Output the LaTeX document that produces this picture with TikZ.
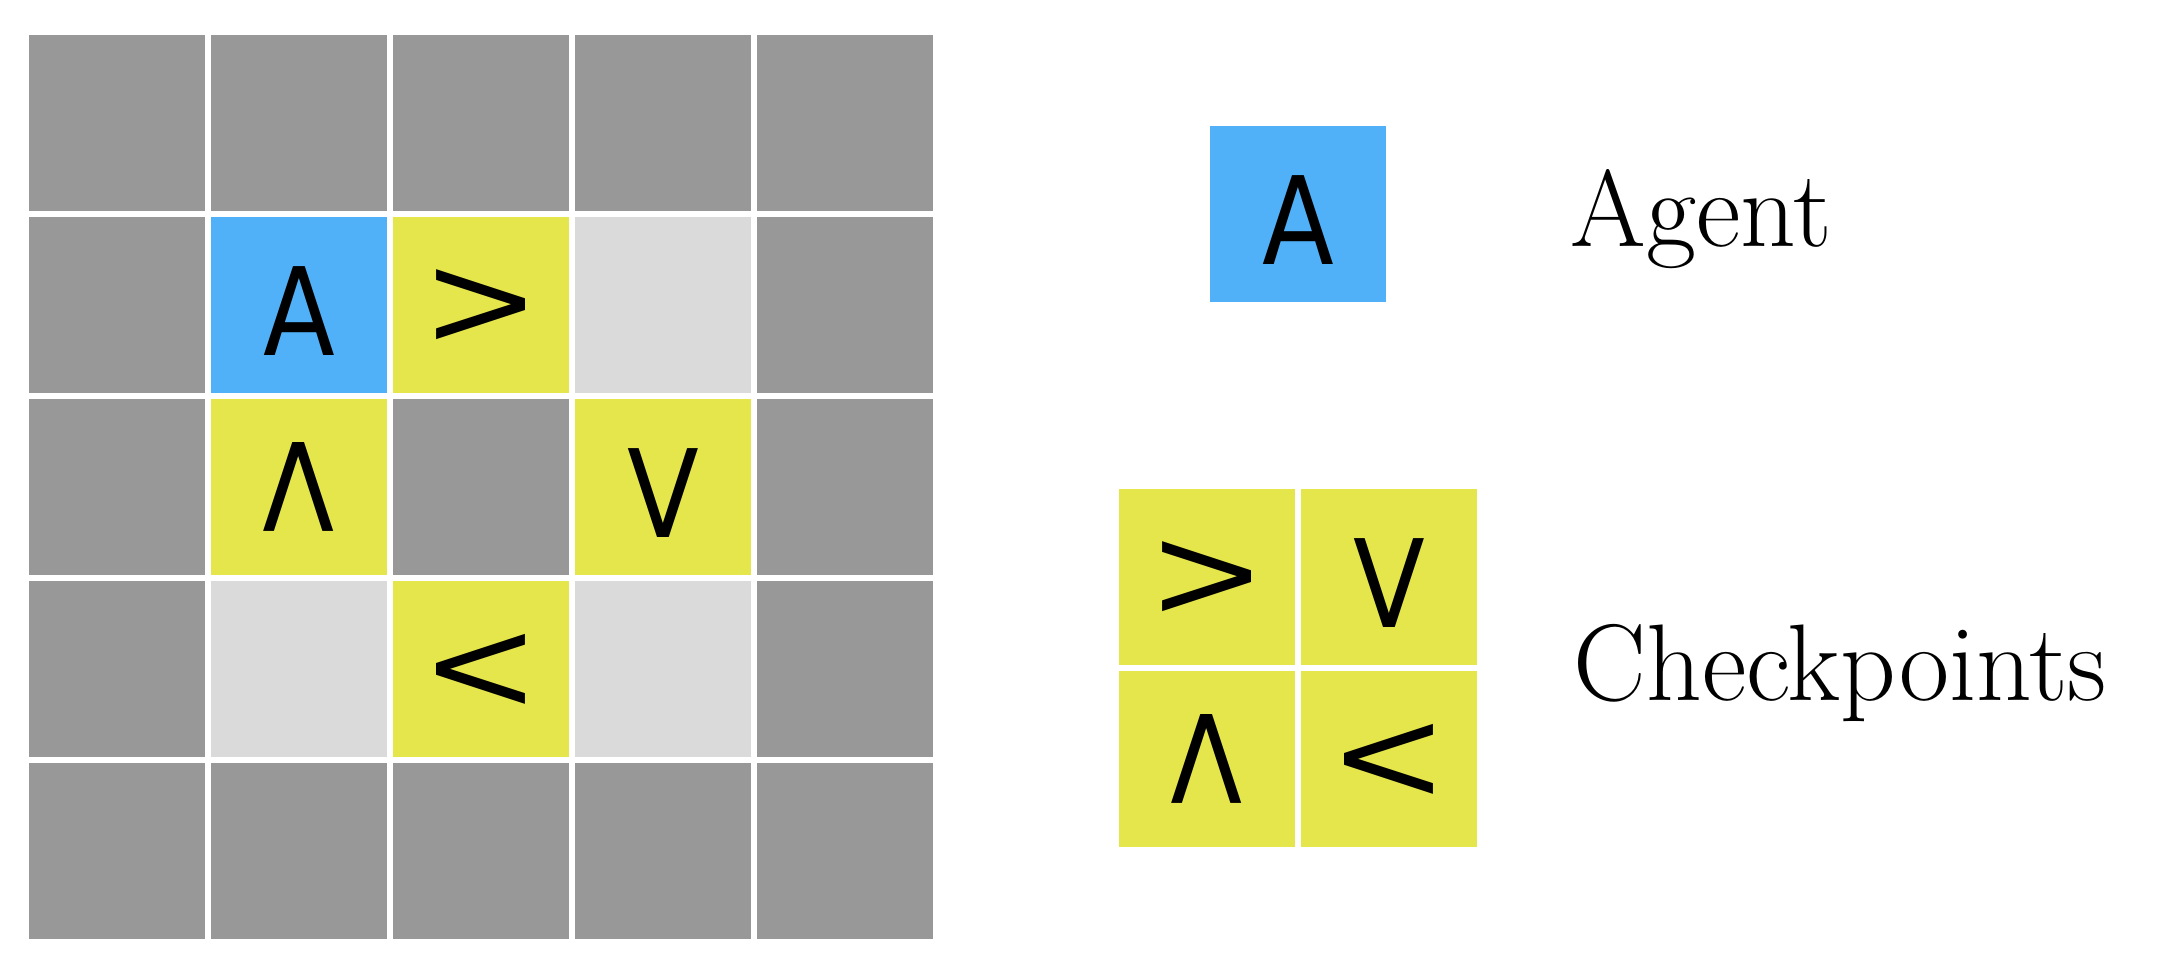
\documentclass[tikz,border=0pt]{standalone}
\usepackage{fontspec}
\usepackage{graphicx}
\usepackage{xcolor}
\usepackage{tikz}

\newfontfamily\cellfont{DejaVu Sans}
\definecolor{wallgray}{HTML}{989898}
\definecolor{floorgray}{HTML}{DADADA}
\definecolor{agentblue}{HTML}{50B0F8}
\definecolor{checkyellow}{HTML}{E5E54C}
\newcommand{\cellglyph}[1]{\scalebox{0.86}[1]{\cellfont\fontsize{34.7}{40}\selectfont #1}}

\begin{document}
\begin{tikzpicture}[
      x=0.1mm, y=-0.1mm,
      cell/.style={rectangle, minimum size=17.6mm, inner sep=0pt, outer sep=0pt},
      wall/.style={cell, fill=wallgray},
      floor/.style={cell, fill=floorgray},
      agent/.style={cell, fill=agentblue},
      checkpoint/.style={cell, fill=checkyellow},
      upright/.style={text height=10.1mm},
      legendtext/.style={anchor=base west, inner sep=0pt, font=\fontsize{31}{36}\selectfont}
    ]
      \useasboundingbox (0,0) rectangle (2182,966);

      % Grid: walls
      \foreach \i/\j in {0/0,1/0,2/0,3/0,4/0, 0/1,4/1, 0/2,2/2,4/2, 0/3,4/3, 0/4,1/4,2/4,3/4,4/4}
        \node[wall] (wall\i\j) at ({117+182*\i},{123+182*\j}) {};

      % Grid: free cells
      \node[floor] (floor31) at (663,305) {};
      \node[floor] (floor13) at (299,669) {};
      \node[floor] (floor33) at (663,669) {};

      % Grid: agent and checkpoints
      \node[agent, upright] (agent) at (299,305) {\cellglyph{A}};
      \node[checkpoint, rotate=90] (cpright) at (481,305) {\cellglyph{V}};
      \node[checkpoint, rotate=180] (cpup) at (299,487) {\cellglyph{V}};
      \node[checkpoint, upright] (cpdown) at (663,487) {\cellglyph{V}};
      \node[checkpoint, rotate=-90] (cpleft) at (481,669) {\cellglyph{V}};

      % Legend
      \node[agent, upright] (legagent) at (1298,214) {\cellglyph{A}};
      \node[legendtext] (agenttext) at (1570,246) {Agent};

      \node[checkpoint, rotate=90] (legright) at (1207,577) {\cellglyph{V}};
      \node[checkpoint, upright] (legdown) at (1389,577) {\cellglyph{V}};
      \node[checkpoint, rotate=180] (legup) at (1207,759) {\cellglyph{V}};
      \node[checkpoint, rotate=-90] (legleft) at (1389,759) {\cellglyph{V}};
      \node[legendtext] (cptext) at (1573,700) {Checkpoints};
    \end{tikzpicture}
\end{document}
